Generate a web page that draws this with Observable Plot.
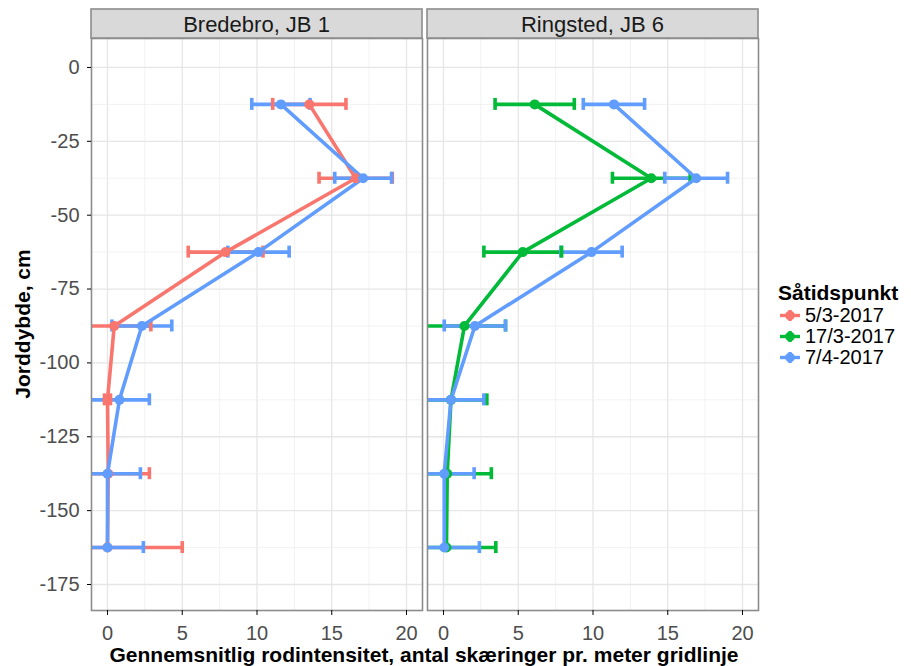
<!DOCTYPE html>
<html><head><meta charset="utf-8">
<script src="https://cdn.jsdelivr.net/npm/d3@7"></script>
<script src="https://cdn.jsdelivr.net/npm/@observablehq/plot@0.6"></script>
<style>
body{margin:0;background:#fff;font-family:"Liberation Sans",Arial,sans-serif;}
#wrap{position:relative;width:911px;height:666px;overflow:hidden;}
#wrap svg{display:block;}
[aria-label="x-axis tick label"] text,[aria-label="y-axis tick label"] text{fill:#4d4d4d;}
[aria-label="x-axis tick"],[aria-label="y-axis tick"]{stroke:#555;}
#legend{position:absolute;left:778px;top:280px;font-family:"Liberation Sans",Arial,sans-serif;}
#legend .title{font-weight:bold;font-size:21px;line-height:25px;height:25px;color:#000;}
#legend .item{display:flex;align-items:center;height:21px;line-height:21px;font-size:20px;color:#000;}
#legend .item svg{margin-right:3px;}
</style></head><body><div id="wrap"></div>
<script>
// ---- data ----
const sites = ["Bredebro, JB 1", "Ringsted, JB 6"];
const dates = ["5/3-2017", "17/3-2017", "7/4-2017"];
const colors = ["#F8766D", "#00BA38", "#619CFF"];
const depths = [-12.5, -37.5, -62.5, -87.5, -112.5, -137.5, -162.5];

const bredebro_0503_mean = [13.5, 16.6, 7.9, 0.45, 0.0, 0.05, 0.0];
const bredebro_0503_se   = [2.45, 2.45, 2.5, 2.45, 0.2, 2.75, 5.0];
const bredebro_0704_mean = [11.6, 17.1, 10.1, 2.3, 0.8, 0.0, 0.0];
const bredebro_0704_se   = [1.95, 1.9, 2.05, 2.0, 2.0, 2.2, 2.4];
const ringsted_1703_mean = [6.1, 13.9, 5.3, 1.4, 0.5, 0.25, 0.2];
const ringsted_1703_se   = [2.65, 2.6, 2.6, 2.75, 2.4, 2.95, 3.3];
const ringsted_0704_mean = [11.4, 16.9, 9.9, 2.1, 0.5, 0.05, 0.05];
const ringsted_0704_se   = [2.05, 2.1, 2.05, 2.05, 2.2, 2.0, 2.35];

const xTicks = [0, 5, 10, 15, 20];
const xMinor = [2.5, 7.5, 12.5, 17.5];
const yTicks = [0, -25, -50, -75, -100, -125, -150, -175];
const yMinor = [-12.5, -37.5, -62.5, -87.5, -112.5, -137.5, -162.5];

const xTitle = "Gennemsnitlig rodintensitet, antal skæringer pr. meter gridlinje";
const yTitle = "Jorddybde, cm";
const legendTitle = "Såtidspunkt";

const series = [
  {site: sites[0], date: dates[0], mean: bredebro_0503_mean, se: bredebro_0503_se},
  {site: sites[0], date: dates[2], mean: bredebro_0704_mean, se: bredebro_0704_se},
  {site: sites[1], date: dates[1], mean: ringsted_1703_mean, se: ringsted_1703_se},
  {site: sites[1], date: dates[2], mean: ringsted_0704_mean, se: ringsted_0704_se}
];
const rows = [];
for (const s of series) {
  depths.forEach((d, i) => rows.push({site: s.site, date: s.date, depth: d,
    mean: s.mean[i], lo: s.mean[i] - s.se[i], hi: s.mean[i] + s.se[i]}));
}

const W = 770, H = 666;
const LW = 3.6;
const chart = Plot.plot({
  width: W, height: H,
  marginLeft: 90, marginRight: 12, marginTop: 38, marginBottom: 56,
  style: {fontFamily: "'Liberation Sans', Arial, sans-serif", background: "white"},
  fx: {domain: sites, paddingInner: 0.0149, paddingOuter: 0, axis: null, label: null},
  x: {domain: [-1.07, 21.07], label: null},
  y: {domain: [-183.8, 9.8], label: null},
  color: {domain: dates, range: colors},
  marks: [
    Plot.gridX(xMinor, {stroke: "#efefef", strokeOpacity: 1, strokeWidth: 0.8}),
    Plot.gridX(xTicks, {stroke: "#e6e6e6", strokeOpacity: 1, strokeWidth: 1.3}),
    Plot.gridY(yMinor, {stroke: "#efefef", strokeOpacity: 1, strokeWidth: 0.8}),
    Plot.gridY(yTicks, {stroke: "#e6e6e6", strokeOpacity: 1, strokeWidth: 1.3}),
    Plot.ruleY(rows, {fx: "site", y: "depth", x1: "lo", x2: "hi", stroke: "date", strokeWidth: LW, clip: true}),
    Plot.ruleX(rows, {fx: "site", x: "lo", y1: "depth", y2: "depth", insetTop: -6, insetBottom: -6, stroke: "date", strokeWidth: LW, clip: true}),
    Plot.ruleX(rows, {fx: "site", x: "hi", y1: "depth", y2: "depth", insetTop: -6, insetBottom: -6, stroke: "date", strokeWidth: LW, clip: true}),
    Plot.line(rows, {fx: "site", x: "mean", y: "depth", z: "date", stroke: "date", strokeWidth: LW, clip: true}),
    Plot.dot(rows, {fx: "site", x: "mean", y: "depth", fill: "date", r: 5, clip: true}),
    Plot.frame({stroke: "#8c8c8c", strokeWidth: 1.6}),
    Plot.axisX(xTicks, {tickSize: 5, tickPadding: 10, fontSize: 20, label: null, tickFormat: d => String(d)}),
    Plot.axisY(yTicks, {tickSize: 4, tickPadding: 8, fontSize: 20, label: null, tickFormat: d => String(d)})
  ]
});

const wrap = document.getElementById("wrap");
wrap.appendChild(chart);

// facet strips, axis titles
const svg = d3.select(chart);
const fx = chart.scale("fx");
const g = svg.append("g").attr("aria-label", "strips");
for (const s of sites) {
  const x0 = fx.apply(s);
  g.append("rect").attr("x", x0).attr("y", 9).attr("width", fx.bandwidth).attr("height", 29)
    .attr("fill", "#d9d9d9").attr("stroke", "#8c8c8c").attr("stroke-width", 1.6);
  g.append("text").attr("x", x0 + fx.bandwidth / 2).attr("y", 24).attr("text-anchor", "middle")
    .attr("dominant-baseline", "central").attr("font-size", 22).attr("fill", "#1a1a1a").text(s);
}
const fxRange = fx.range;
svg.append("text").attr("x", (fxRange[0] + fxRange[1]) / 2).attr("y", 662).attr("text-anchor", "middle")
  .attr("font-weight", "bold").attr("font-size", 21).attr("fill", "#000").text(xTitle);
svg.append("text").attr("transform", `translate(22,${(38 + 610) / 2}) rotate(-90)`).attr("text-anchor", "middle")
  .attr("dominant-baseline", "central").attr("font-weight", "bold").attr("font-size", 21).attr("fill", "#000").text(yTitle);

// legend
const leg = document.createElement("div");
leg.id = "legend";
let html = `<div class="title">${legendTitle}</div>`;
dates.forEach((d, i) => {
  html += `<div class="item"><svg width="24" height="21"><line x1="2" x2="22" y1="10.5" y2="10.5" stroke="${colors[i]}" stroke-width="3.4"/><line x1="12" x2="12" y1="5" y2="16" stroke="${colors[i]}" stroke-width="3.4"/><circle cx="12" cy="10.5" r="4.8" fill="${colors[i]}"/></svg><span>${d}</span></div>`;
});
leg.innerHTML = html;
wrap.appendChild(leg);
</script></body></html>
